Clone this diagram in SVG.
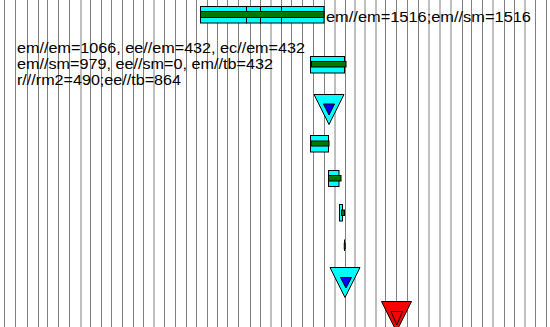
<svg xmlns="http://www.w3.org/2000/svg" width="550" height="327" viewBox="0 0 550 327">
<style>
.grid line{stroke:#808080;stroke-width:1}
.c{fill:#00ffff;stroke:#000;stroke-width:1}
.g{fill:#007800;stroke:#000;stroke-width:1}
.b{fill:#0000ff;stroke:#000;stroke-width:1}
.r{fill:#ff0000;stroke:#000;stroke-width:1}
text{font-family:"Liberation Sans",Arial,sans-serif;font-size:14px;fill:#000}
</style>
<rect width="550" height="327" fill="#fff"/>
<g class="grid" id="grid">
<line x1="4.5" y1="0" x2="4.5" y2="327"/><line x1="15.5" y1="0" x2="15.5" y2="327"/><line x1="27.5" y1="0" x2="27.5" y2="327"/><line x1="38.5" y1="0" x2="38.5" y2="327"/><line x1="47.5" y1="0" x2="47.5" y2="327"/><line x1="58.5" y1="0" x2="58.5" y2="327"/><line x1="69.5" y1="0" x2="69.5" y2="327"/><line x1="81" y1="0" x2="81" y2="327"/><line x1="90.5" y1="0" x2="90.5" y2="327"/><line x1="101.5" y1="0" x2="101.5" y2="327"/><line x1="111.5" y1="0" x2="111.5" y2="327"/><line x1="122.5" y1="0" x2="122.5" y2="327"/><line x1="133.5" y1="0" x2="133.5" y2="327"/><line x1="143.5" y1="0" x2="143.5" y2="327"/><line x1="154" y1="0" x2="154" y2="327"/><line x1="164.5" y1="0" x2="164.5" y2="327"/><line x1="175.5" y1="0" x2="175.5" y2="327"/><line x1="186.5" y1="0" x2="186.5" y2="327"/><line x1="196.5" y1="0" x2="196.5" y2="327"/><line x1="207.5" y1="0" x2="207.5" y2="327"/><line x1="217.5" y1="0" x2="217.5" y2="327"/><line x1="227.5" y1="0" x2="227.5" y2="327"/><line x1="238.5" y1="0" x2="238.5" y2="327"/><line x1="250.5" y1="0" x2="250.5" y2="327"/><line x1="260.5" y1="0" x2="260.5" y2="327"/><line x1="271" y1="0" x2="271" y2="327"/><line x1="281.5" y1="0" x2="281.5" y2="327"/><line x1="291.5" y1="0" x2="291.5" y2="327"/><line x1="302.5" y1="0" x2="302.5" y2="327"/><line x1="313.5" y1="0" x2="313.5" y2="327"/><line x1="324.5" y1="0" x2="324.5" y2="327"/><line x1="335" y1="0" x2="335" y2="327"/><line x1="345.5" y1="0" x2="345.5" y2="327"/><line x1="355" y1="0" x2="355" y2="327"/><line x1="365" y1="0" x2="365" y2="327"/><line x1="376" y1="0" x2="376" y2="327"/><line x1="385.5" y1="0" x2="385.5" y2="327"/><line x1="396.5" y1="0" x2="396.5" y2="327"/><line x1="407.5" y1="0" x2="407.5" y2="327"/><line x1="418.5" y1="0" x2="418.5" y2="327"/><line x1="429" y1="0" x2="429" y2="327"/><line x1="440" y1="0" x2="440" y2="327"/><line x1="451" y1="0" x2="451" y2="327"/><line x1="462.5" y1="0" x2="462.5" y2="327"/><line x1="471.5" y1="0" x2="471.5" y2="327"/><line x1="482.5" y1="0" x2="482.5" y2="327"/><line x1="493" y1="0" x2="493" y2="327"/><line x1="504.5" y1="0" x2="504.5" y2="327"/><line x1="514.5" y1="0" x2="514.5" y2="327"/><line x1="525" y1="0" x2="525" y2="327"/><line x1="535.5" y1="0" x2="535.5" y2="327"/><line x1="546.5" y1="0" x2="546.5" y2="327"/>
</g>
<g id="bar1">
<rect class="c" x="200.5" y="6.5" width="46" height="16.5"/>
<rect class="c" x="246.5" y="6.5" width="14" height="16.5"/>
<rect class="c" x="260.5" y="6.5" width="21" height="16.5"/>
<rect class="c" x="281.5" y="6.5" width="42.5" height="16.5"/>
<rect class="g" x="200.5" y="11.5" width="123.5" height="6"/>
<text x="326" y="22" textLength="205" lengthAdjust="spacingAndGlyphs">em//em=1516;em//sm=1516</text>
</g>
<g id="label">
<text x="17" y="53" textLength="288" lengthAdjust="spacingAndGlyphs">em//em=1066, ee//em=432, ec//em=432</text>
<text x="17" y="69" textLength="256" lengthAdjust="spacingAndGlyphs">em//sm=979, ee//sm=0, em//tb=432</text>
<text x="17" y="85" textLength="164" lengthAdjust="spacingAndGlyphs">r///rm2=490;ee//tb=864</text>
</g>
<g id="bar2">
<rect class="c" x="310.5" y="56.5" width="34" height="16.5"/>
<rect class="g" x="311.5" y="61.5" width="34.5" height="5.5"/>
</g>
<g id="tri1">
<polygon class="c" points="314,94.5 344,94.5 329,124.5"/>
<polygon class="b" points="323.5,104 334.5,104 329,115"/>
</g>
<g id="bar3">
<rect class="c" x="310.5" y="135.5" width="18" height="16.5"/>
<rect class="g" x="311" y="141" width="18" height="5"/>
</g>
<g id="bar4">
<rect class="c" x="328.5" y="170.5" width="10.5" height="16"/>
<rect class="g" x="328.5" y="175.5" width="12.5" height="5.5"/>
</g>
<g id="bar5">
<rect class="c" x="339.5" y="204.5" width="3" height="16.5"/>
<rect class="g" x="341.5" y="210" width="3" height="5.5"/>
</g>
<g id="bar6">
<line x1="344.5" y1="239.5" x2="344.5" y2="251" stroke="#000" stroke-width="1"/>
<rect x="344" y="243" width="1.5" height="6" fill="#003c00" stroke="#000" stroke-width="0.5"/>
</g>
<g id="tri2">
<polygon class="c" points="330,267.5 360,267.5 345,297.5"/>
<polygon class="b" points="340.5,277.5 351.5,277.5 346,288"/>
</g>
<g id="tri3">
<polygon class="r" points="381.5,301.5 411.5,301.5 396.5,331.5"/>
<polygon class="r" points="391,311.5 402.5,311.5 396.8,325"/>
</g>
</svg>
